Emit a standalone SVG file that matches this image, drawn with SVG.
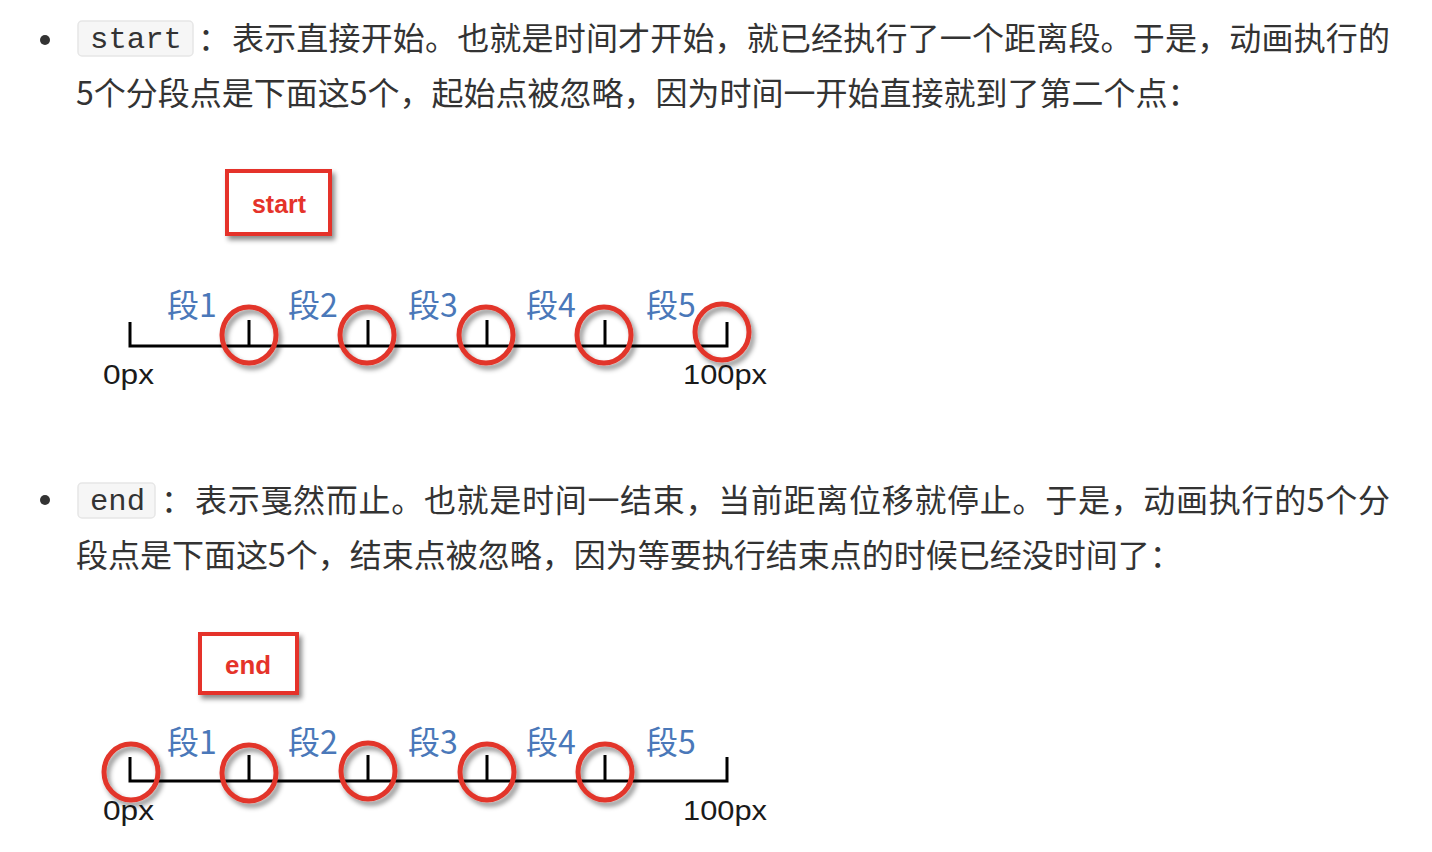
<svg xmlns="http://www.w3.org/2000/svg" width="1432" height="852" viewBox="0 0 1432 852">
<style>
.txt{font-family:"Noto Sans CJK SC","Noto Sans",sans-serif;font-size:32px;fill:#333}
.code{font-family:"Liberation Mono","DejaVu Sans Mono",monospace;font-size:30px;fill:#333}
.codebox{fill:#f6f6f6;stroke:#e6e6e6;stroke-width:1.5}
.bul{fill:#333}
.tag{fill:#fff;stroke:#e5332a;stroke-width:4}
.tagtxt{font-family:"Liberation Sans",Arial,sans-serif;font-weight:bold;font-size:26px;fill:#e5332a;text-anchor:middle}
.axis{stroke:#000;stroke-width:3;fill:none}
.ring{fill:none;stroke:#e2362b;stroke-width:5}
.seg{font-family:"Noto Sans CJK SC","Noto Sans",sans-serif;font-size:32px;fill:#4a78b9;text-anchor:middle}
.px{font-family:"Liberation Sans",Arial,sans-serif;font-size:28px;fill:#1a1a1a}
</style>
<defs>
<filter id="sh" x="-30%" y="-30%" width="170%" height="170%">
<feDropShadow dx="3" dy="4" stdDeviation="2.5" flood-color="#000" flood-opacity="0.45"/>
</filter>
</defs>
<rect width="1432" height="852" fill="#fff"/>

<g id="para1">
<circle class="bul" cx="45" cy="40" r="5"/>
<rect class="codebox" x="78" y="21" width="115" height="35" rx="4"/>
<text class="code" x="90" y="48" textLength="92" lengthAdjust="spacingAndGlyphs">start</text>
<text class="txt" x="198" y="50">：</text>
<text class="txt" x="232" y="50" textLength="1158" lengthAdjust="spacing">表示直接开始。也就是时间才开始，就已经执行了一个距离段。于是，动画执行的</text>
<text class="txt" x="76" y="105">5个分段点是下面这5个，起始点被忽略，因为时间一开始直接就到了第二个点：</text>
</g>

<g id="diagram1">
<g id="start-box">
<rect class="tag" x="227" y="171" width="103" height="63" filter="url(#sh)"/>
<text class="tagtxt" x="279" y="213" textLength="54" lengthAdjust="spacingAndGlyphs">start</text>
</g>
<g id="axis1">
<path class="axis" d="M130,322 V346 H727 V322 M249,320 V346 M368,320 V346 M487,320 V346 M605,320 V346"/>
</g>
<g id="labels1">
<text class="seg" x="192" y="317">段1</text>
<text class="seg" x="313" y="317">段2</text>
<text class="seg" x="433" y="317">段3</text>
<text class="seg" x="551" y="317">段4</text>
<text class="seg" x="671" y="317">段5</text>
<text class="px" x="103" y="384" textLength="51" lengthAdjust="spacingAndGlyphs">0px</text>
<text class="px" x="683" y="384" textLength="84" lengthAdjust="spacingAndGlyphs">100px</text>
</g>
<g id="rings1" filter="url(#sh)">
<ellipse class="ring" cx="249" cy="335" rx="27" ry="28"/>
<ellipse class="ring" cx="367" cy="335" rx="27" ry="28"/>
<ellipse class="ring" cx="486" cy="335" rx="27" ry="28"/>
<ellipse class="ring" cx="604" cy="335" rx="27" ry="28"/>
<ellipse class="ring" cx="722" cy="332" rx="27" ry="28"/>
</g>
</g>

<g id="para2">
<circle class="bul" cx="45" cy="500" r="5"/>
<rect class="codebox" x="78" y="483" width="77" height="35" rx="4"/>
<text class="code" x="90" y="510" textLength="55" lengthAdjust="spacingAndGlyphs">end</text>
<text class="txt" x="161" y="512">：</text>
<text class="txt" x="195" y="512" textLength="1195" lengthAdjust="spacing">表示戛然而止。也就是时间一结束，当前距离位移就停止。于是，动画执行的5个分</text>
<text class="txt" x="76" y="567">段点是下面这5个，结束点被忽略，因为等要执行结束点的时候已经没时间了：</text>
</g>

<g id="diagram2">
<g id="end-box">
<rect class="tag" x="200" y="634" width="97" height="59" filter="url(#sh)"/>
<text class="tagtxt" x="248" y="674" textLength="46" lengthAdjust="spacingAndGlyphs">end</text>
</g>
<g id="axis2">
<path class="axis" d="M130,757 V781 H727 V757 M249,755 V781 M368,755 V781 M487,755 V781 M605,755 V781"/>
</g>
<g id="labels2">
<text class="seg" x="192" y="754">段1</text>
<text class="seg" x="313" y="754">段2</text>
<text class="seg" x="433" y="754">段3</text>
<text class="seg" x="551" y="754">段4</text>
<text class="seg" x="671" y="754">段5</text>
<text class="px" x="103" y="820" textLength="51" lengthAdjust="spacingAndGlyphs">0px</text>
<text class="px" x="683" y="820" textLength="84" lengthAdjust="spacingAndGlyphs">100px</text>
</g>
<g id="rings2" filter="url(#sh)">
<ellipse class="ring" cx="131" cy="772" rx="27" ry="28"/>
<ellipse class="ring" cx="249" cy="773" rx="27" ry="28"/>
<ellipse class="ring" cx="368" cy="771" rx="27" ry="28"/>
<ellipse class="ring" cx="487" cy="772" rx="27" ry="28"/>
<ellipse class="ring" cx="605" cy="772" rx="27" ry="28"/>
</g>
</g>
</svg>
